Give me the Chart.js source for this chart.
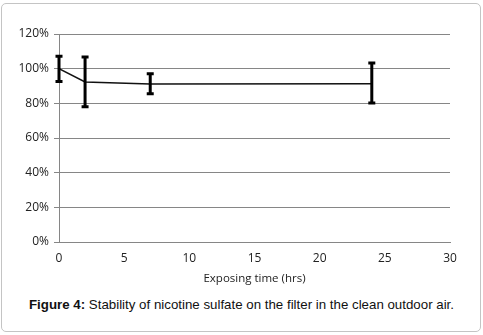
<!DOCTYPE html>
<html>
<head>
<meta charset="utf-8">
<script src="https://cdn.jsdelivr.net/npm/chart.js@4/dist/chart.umd.min.js"></script>
<style>
  html, body { margin: 0; padding: 0; background: #fff; }
  body { width: 483px; height: 335px; position: relative; overflow: hidden; }
  #frame {
    position: absolute; left: 1px; top: 3px; width: 478px; height: 327px;
    border: 1px solid #c4c4c4; border-radius: 5px;
  }
  #wrap { position: absolute; left: 0; top: 0; width: 483px; height: 292px; }
  #caption {
    position: absolute; left: 0; top: 297px; width: 483px; text-align: center;
    font-family: "Liberation Sans", Arial, sans-serif; font-size: 13.3px; color: #111;
  }
</style>
</head>
<body>
<div id="frame"></div>
<div id="wrap"><canvas id="stability-chart"></canvas></div>
<div id="caption"><b>Figure 4:</b> Stability of nicotine sulfate on the filter in the clean outdoor air.</div>
<script>
const hours = [0, 2, 7, 24];
const recovery = [100, 92.3, 91.2, 91.3];
const errLow = [92.6, 78, 85.6, 80.2];
const errHigh = [107.2, 106.8, 97, 103.3];
const yTicks = [0, 20, 40, 60, 80, 100, 120];
const xTicks = [0, 5, 10, 15, 20, 25, 30];

const errorBars = {
    id: "errorBars",
    afterDatasetsDraw(chart) {
        const ctx = chart.ctx;
        const xs = chart.scales.x;
        const ys = chart.scales.y;
        ctx.save();
        ctx.strokeStyle = "#000";
        ctx.lineWidth = 3;
        hours.forEach((h, i) => {
            const px = xs.getPixelForValue(h);
            const top = ys.getPixelForValue(errHigh[i]);
            const bot = ys.getPixelForValue(errLow[i]);
            ctx.beginPath();
            ctx.moveTo(px, top);
            ctx.lineTo(px, bot);
            ctx.moveTo(px - 3.5, top);
            ctx.lineTo(px + 3.5, top);
            ctx.moveTo(px - 3.5, bot);
            ctx.lineTo(px + 3.5, bot);
            ctx.stroke();
        });
        ctx.restore();
    },
};

const ctx = document.getElementById("stability-chart").getContext("2d");
new Chart(ctx, {
    type: "scatter",
    data: {
        datasets: [{
            data: hours.map((h, i) => ({ x: h, y: recovery[i] })),
            showLine: true,
            borderColor: "#111",
            borderWidth: 1.5,
            pointRadius: 0,
            tension: 0,
        }],
    },
    options: {
        responsive: true,
        maintainAspectRatio: false,
        animation: false,
        layout: { padding: { left: 0, right: 33, top: 34, bottom: 0 } },
        scales: {
            x: {
                type: "linear",
                min: 0,
                max: 30,
                afterBuildTicks: (s) => { s.ticks = xTicks.map(v => ({ value: v })); },
                afterFit: (s) => { s.height = 50; },
                grid: { display: false, drawTicks: true, tickLength: 5, tickColor: "#868686" },
                border: { color: "#868686", width: 1 },
                ticks: { color: "#222", font: { family: "Open Sans", size: 12 }, padding: 4 },
                title: {
                    display: true,
                    text: "Exposing time (hrs)",
                    color: "#222",
                    font: { family: "Open Sans", size: 11.5 },
                    padding: { top: 2, bottom: 6 },
                },
            },
            y: {
                min: 0,
                max: 120,
                afterBuildTicks: (s) => { s.ticks = yTicks.map(v => ({ value: v })); },
                afterFit: (s) => { s.width = 59; },
                grid: { color: "#868686", lineWidth: 1, tickLength: 5, tickColor: "#868686" },
                border: { color: "#868686", width: 1 },
                ticks: {
                    color: "#222",
                    font: { family: "Open Sans", size: 12 },
                    padding: 5,
                    callback: (v) => v + "%",
                },
            },
        },
        plugins: {
            legend: { display: false },
            tooltip: { enabled: false },
        },
    },
    plugins: [errorBars],
});
</script>
</body>
</html>
